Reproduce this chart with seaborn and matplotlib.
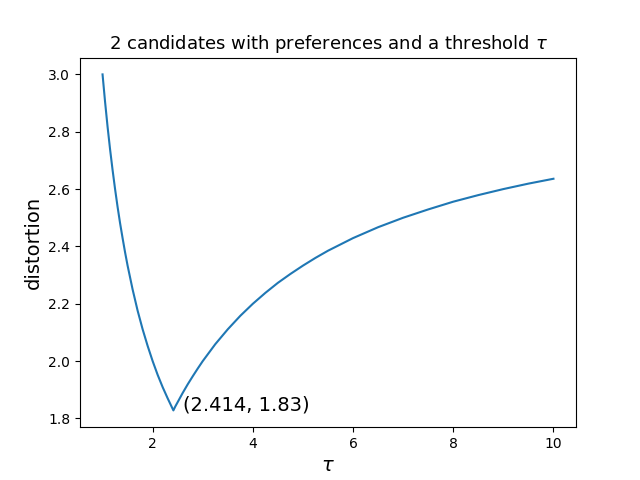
import matplotlib
matplotlib.use("Agg")
import matplotlib.pyplot as plt
import seaborn as sns
import pandas as pd

tau = [1.0, 1.05, 1.1, 1.15, 1.2, 1.25, 1.3, 1.35, 1.4, 1.45, 1.5, 1.6, 1.7, 1.8, 1.9,
       2.0, 2.1, 2.2, 2.3, 2.414,
       2.45, 2.5, 2.6, 2.7, 2.8, 2.9, 3.0, 3.25, 3.5, 3.75, 4.0, 4.25, 4.5, 4.75,
       5.0, 5.25, 5.5, 6.0, 6.5, 7.0, 7.5, 8.0, 8.5, 9.0, 9.5, 10.0]
distortion = [3.0, 2.905, 2.818, 2.739, 2.667, 2.6, 2.538, 2.481, 2.429, 2.379, 2.333, 2.25, 2.176, 2.111, 2.053,
              2.0, 1.952, 1.909, 1.870, 1.828,
              1.841, 1.857, 1.889, 1.919, 1.947, 1.974, 2.0, 2.059, 2.111, 2.158, 2.2, 2.238, 2.273, 2.304,
              2.333, 2.36, 2.385, 2.429, 2.467, 2.5, 2.529, 2.556, 2.579, 2.6, 2.619, 2.636]
min_tau = 2.414
min_val = 1.828
label = "(2.414, 1.83)"

df = pd.DataFrame({"tau": tau, "distortion": distortion})

fig, ax = plt.subplots(figsize=(6.4, 4.8), dpi=100)
sns.lineplot(data=df, x="tau", y="distortion", ax=ax, color="#1f77b4", linewidth=1.5)
ax.text(min_tau + 0.2, min_val, label, fontsize=14)
ax.set_xlabel(r"$\tau$", fontsize=14)
ax.set_ylabel("distortion", fontsize=14)
ax.set_title(r"2 candidates with preferences and a threshold $\tau$", fontsize=13)
ax.set_xticks([2, 4, 6, 8, 10])
fig.savefig("out.png", dpi=100)
